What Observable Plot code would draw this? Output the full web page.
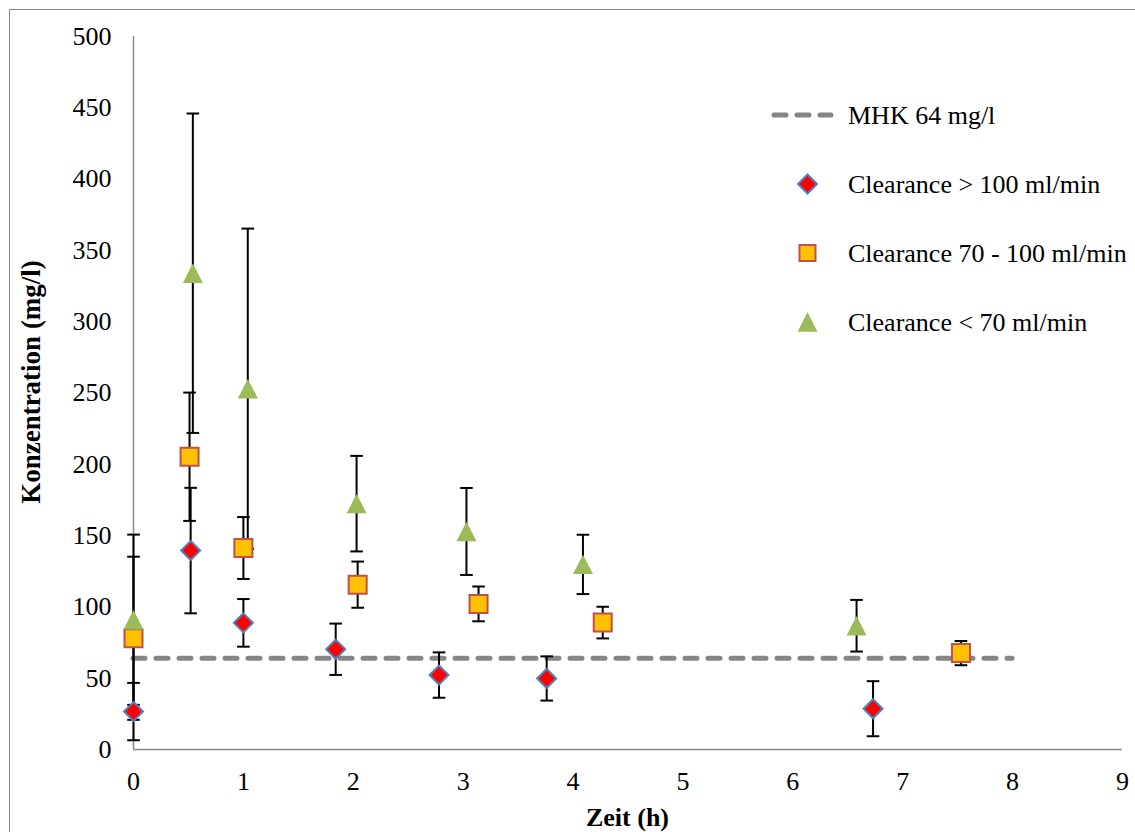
<!DOCTYPE html>
<html>
<head>
<meta charset="utf-8">
<script src="https://cdn.jsdelivr.net/npm/d3@7"></script>
<script src="https://cdn.jsdelivr.net/npm/@observablehq/plot@0.6"></script>
<style>
  body { margin: 0; background: #fff; overflow: hidden; }
  #wrap { position: relative; width: 1135px; height: 832px; overflow: hidden; }
  #border { position: absolute; left: 9px; top: 9px; width: 1150px; height: 850px; border: 1.5px solid #878787; box-sizing: border-box; pointer-events: none; }
  #chart { position: absolute; left: 0; top: 0; }
</style>
</head>
<body>
<div id="wrap"><div id="chart"></div><div id="border"></div></div>
<script>
// ---- Data ----
const xTitle = "Zeit (h)";
const yTitle = "Konzentration (mg/l)";
const xTicks = [0, 1, 2, 3, 4, 5, 6, 7, 8, 9];
const yTicks = [0, 50, 100, 150, 200, 250, 300, 350, 400, 450, 500];

const mhkLabel = "MHK 64 mg/l";
const mhkValue = 64;
const mhkRange = [0, 8];

const seriesNames = ["Clearance > 100 ml/min", "Clearance 70 - 100 ml/min", "Clearance < 70 ml/min"];

const timeHigh = [0, 0.52, 1.0, 1.84, 2.78, 3.76, 6.73];
const concHigh = [26.6, 139.5, 88.8, 70.3, 52.2, 49.8, 28.6];
const sdHigh   = [20.1, 44, 16.7, 18, 15.9, 15.5, 19.3];

const timeMid = [0, 0.51, 1.0, 2.04, 3.14, 4.27, 7.53];
const concMid = [78, 205.3, 141.3, 115.6, 102.1, 89, 67.6];
const sdMid   = [57.2, 45, 21.7, 16.2, 12.2, 11.1, 8.5];

const timeLow = [0, 0.54, 1.04, 2.03, 3.03, 4.09, 6.58];
const concLow = [91, 334, 253, 172.4, 152.9, 129.8, 86.8];
const sdLow   = [59.7, 112, 112.3, 33.5, 30.5, 20.8, 18.1];

// ---- build table ----
const seriesData = [
  [timeHigh, concHigh, sdHigh],
  [timeMid, concMid, sdMid],
  [timeLow, concLow, sdLow]
];
const rows = [];
seriesData.forEach(([ts, cs, ss], i) => {
  ts.forEach((t, j) => rows.push({series: seriesNames[i], t, c: cs[j], sd: ss[j]}));
});

// ---- custom symbols ----
const rad = size => Math.sqrt(size / Math.PI);
const diamond = {draw(ctx, size) { const r = rad(size); ctx.moveTo(0, -r); ctx.lineTo(r, 0); ctx.lineTo(0, r); ctx.lineTo(-r, 0); ctx.closePath(); }};
const square = {draw(ctx, size) { const r = rad(size); ctx.moveTo(-r, -r); ctx.lineTo(r, -r); ctx.lineTo(r, r); ctx.lineTo(-r, r); ctx.closePath(); }};
const triangle = {draw(ctx, size) { const r = rad(size); const h = r * 0.97; ctx.moveTo(0, -h); ctx.lineTo(r, h); ctx.lineTo(-r, h); ctx.closePath(); }};
const cap = {draw(ctx, size) { const r = rad(size); ctx.moveTo(-r, 0); ctx.lineTo(r, 0); }};

const styles = [
  {symbol: diamond, r: 9.5, fill: "#ff0000", stroke: "#4f81bd", strokeWidth: 2},
  {symbol: square, r: 9, fill: "#ffc000", stroke: "#c0504d", strokeWidth: 2},
  {symbol: triangle, r: 10, fill: "#9bbb59", stroke: "none", strokeWidth: 0}
];

const font = "'Liberation Serif', 'Times New Roman', serif";
const axisColor = "#8a8a8a";

const chart = Plot.plot({
  width: 1135,
  height: 832,
  marginLeft: 133,
  marginRight: 13,
  marginTop: 36,
  marginBottom: 83,
  style: {fontFamily: font, fontSize: "26px", color: "#000", background: "transparent"},
  x: {domain: [0, 9], label: null},
  y: {domain: [0, 500], label: null},
  marks: [
    Plot.axisY({ticks: yTicks, tickSize: 0, tickPadding: 22, label: null, tickFormat: d => String(d)}),
    Plot.axisX({ticks: xTicks, tickSize: 0, tickPadding: 22, label: null, tickFormat: d => String(d)}),
    Plot.ruleX([0], {stroke: axisColor, strokeWidth: 1.5}),
    Plot.ruleY([0], {stroke: axisColor, strokeWidth: 1.5}),
    Plot.ruleY([mhkValue], {x1: mhkRange[0], x2: mhkRange[1], stroke: "#868686", strokeWidth: 5, strokeDasharray: "12 11", strokeLinecap: "round"}),
    Plot.ruleX(rows, {x: "t", y1: d => d.c - d.sd, y2: d => d.c + d.sd, stroke: "#000", strokeWidth: 2}),
    Plot.dot(rows, {x: "t", y: d => d.c + d.sd, symbol: cap, r: 6.3, stroke: "#000", strokeWidth: 2, fill: "none"}),
    Plot.dot(rows, {x: "t", y: d => d.c - d.sd, symbol: cap, r: 6.3, stroke: "#000", strokeWidth: 2, fill: "none"}),
    ...seriesNames.map((name, i) => Plot.dot(rows.filter(d => d.series === name), {x: "t", y: "c", ...styles[i]}))
  ]
});

document.getElementById("chart").appendChild(chart);

// ---- axis titles ----
const svg = d3.select(chart);
svg.append("text")
  .attr("transform", "translate(39.5, 382) rotate(-90)")
  .attr("text-anchor", "middle")
  .attr("font-weight", "bold")
  .attr("font-size", 27)
  .attr("font-family", font)
  .attr("fill", "#000")
  .text(yTitle);
svg.append("text")
  .attr("x", 627.5).attr("y", 826)
  .attr("text-anchor", "middle")
  .attr("font-weight", "bold")
  .attr("font-size", 26)
  .attr("font-family", font)
  .attr("fill", "#000")
  .text(xTitle);

// ---- legend ----
const lg = svg.append("g").attr("font-family", font).attr("font-size", 26).attr("fill", "#000").attr("text-anchor", "start");
const legendTextX = 848;
const rowY = [115, 184, 253, 322];
lg.append("line").attr("x1", 774).attr("x2", 831).attr("y1", rowY[0]).attr("y2", rowY[0])
  .attr("stroke", "#868686").attr("stroke-width", 5).attr("stroke-dasharray", "12 11").attr("stroke-linecap", "round");
lg.append("text").attr("x", legendTextX).attr("y", rowY[0] + 9).attr("text-anchor", "start").text(mhkLabel);
seriesNames.forEach((name, i) => {
  const s = styles[i];
  const path = d3.path();
  s.symbol.draw(path, (i === 1 ? 8 : s.r) ** 2 * Math.PI);
  lg.append("path").attr("d", path.toString())
    .attr("transform", `translate(807.5, ${rowY[i + 1]})`)
    .attr("fill", s.fill).attr("stroke", s.stroke).attr("stroke-width", s.strokeWidth);
  lg.append("text").attr("x", legendTextX).attr("y", rowY[i + 1] + 9).attr("text-anchor", "start").text(name);
});
</script>
</body>
</html>
